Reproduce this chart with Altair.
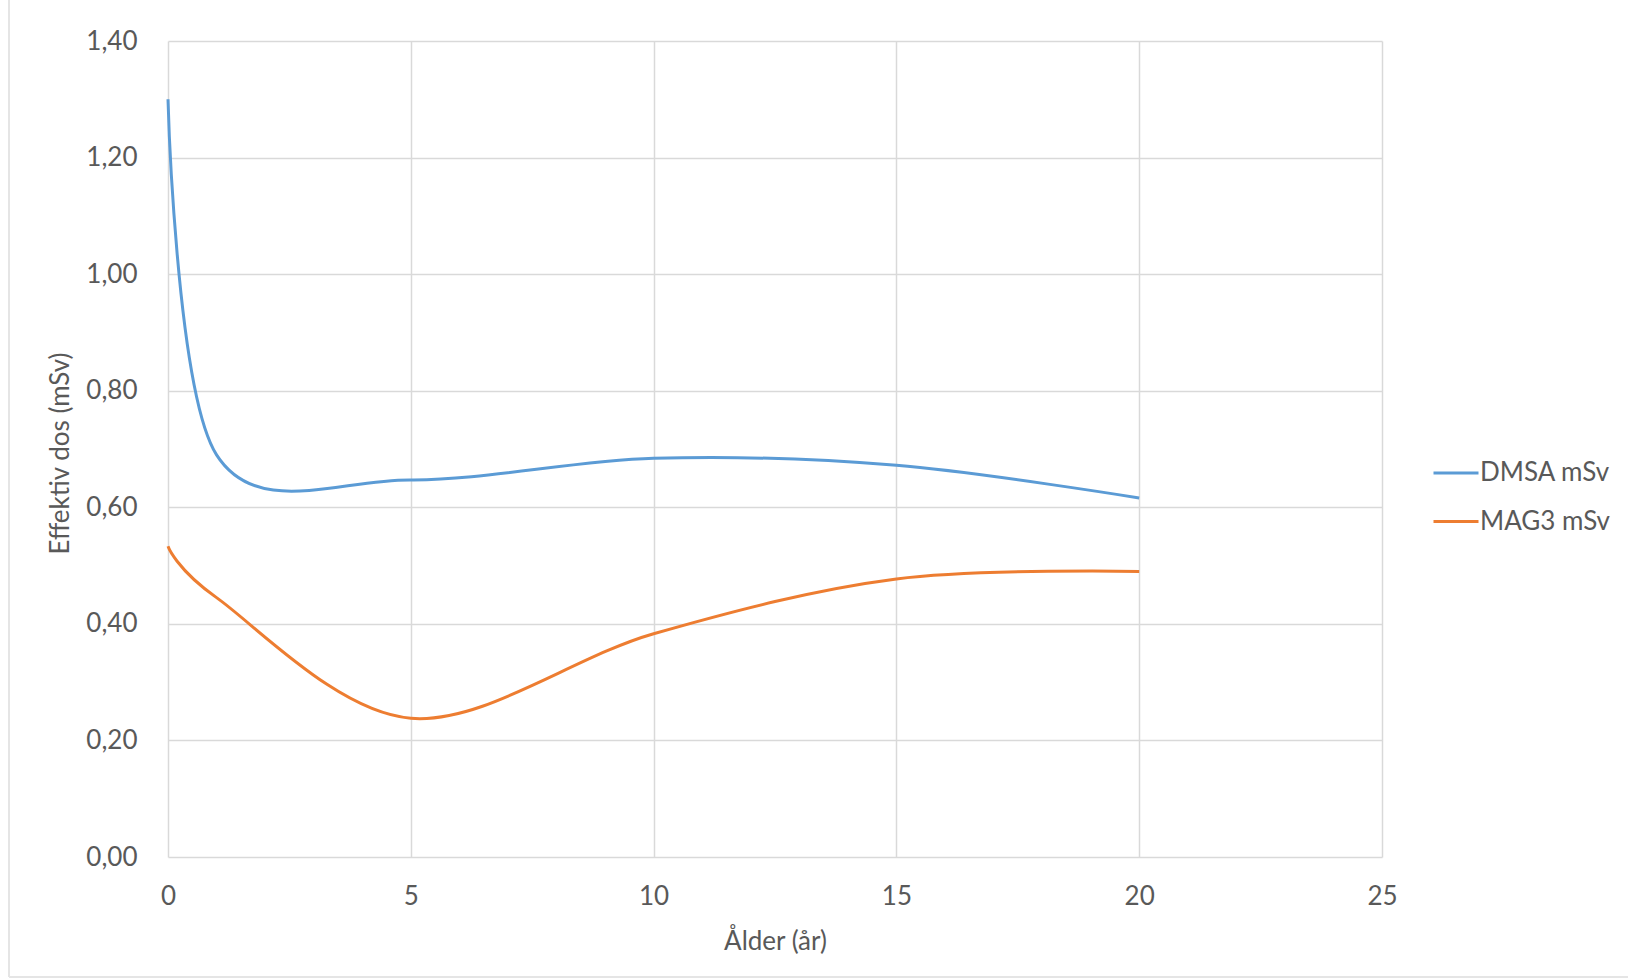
import altair as alt
import pandas as pd

# Effective dose per age group for the two renal agents
ages = [0, 1, 5, 10, 15, 20]
dmsa = [1.30, 0.69, 0.647, 0.684, 0.672, 0.616]
mag3 = [0.533, 0.445, 0.238, 0.383, 0.477, 0.490]
series_names = ["DMSA mSv", "MAG3 mSv"]
series_colors = ["#5B9BD5", "#ED7D31"]

x_ticks = [0, 5, 10, 15, 20, 25]
y_ticks = [0.0, 0.2, 0.4, 0.6, 0.8, 1.0, 1.2, 1.4]

df = pd.DataFrame(
    {
        "age": ages * 2,
        "dose": dmsa + mag3,
        "series": [series_names[0]] * len(ages) + [series_names[1]] * len(ages),
    }
)

FONT = "Lato"
TEXT = "#595959"
GRID = "#D9D9D9"

lines = (
    alt.Chart(df)
    .mark_line(interpolate="cardinal", strokeWidth=3)
    .encode(
        x=alt.X(
            "age:Q",
            scale=alt.Scale(domain=[0, 25], nice=False),
            axis=alt.Axis(
                values=x_ticks,
                title="Ålder (år)",
                titleFont=FONT,
                titleFontSize=26,
                titleFontWeight="normal",
                titleColor=TEXT,
                titleBaseline="middle",
                titleY=84,
                labelFont=FONT,
                labelFontSize=26,
                labelColor=TEXT,
                labelPadding=26,
                labelFlush=False,
                ticks=False,
                domain=False,
                grid=True,
                gridColor=GRID,
                gridWidth=1.5,
            ),
        ),
        y=alt.Y(
            "dose:Q",
            scale=alt.Scale(domain=[0, 1.4], nice=False),
            axis=alt.Axis(
                values=y_ticks,
                labelExpr="replace(format(datum.value, '.2f'), '.', ',')",
                title="Effektiv dos (mSv)",
                titleFont=FONT,
                titleFontSize=26,
                titleFontWeight="normal",
                titleColor=TEXT,
                titleAngle=270,
                titleAlign="center",
                titleBaseline="middle",
                titleX=-108,
                titleY=412,
                labelFont=FONT,
                labelFontSize=26,
                labelColor=TEXT,
                labelPadding=31,
                ticks=False,
                domain=False,
                grid=True,
                gridColor=GRID,
                gridWidth=1.5,
            ),
        ),
        color=alt.Color(
            "series:N",
            scale=alt.Scale(domain=series_names, range=series_colors),
            legend=alt.Legend(
                title=None,
                orient="none",
                legendX=1264,
                legendY=408,
                symbolType="stroke",
                symbolSize=2025,
                symbolStrokeWidth=3,
                labelFont=FONT,
                labelFontSize=26,
                labelColor=TEXT,
                labelOffset=0,
                rowPadding=11.5,
            ),
        ),
    )
)

# faint outer frame of the chart area (left and bottom edges)
frame_left = alt.Chart(df).mark_rule(color="#E4E4E4", strokeWidth=1.5).encode(
    x=alt.value(-159), y=alt.value(-41), y2=alt.value(936)
)
frame_bottom = alt.Chart(df).mark_rule(color="#E4E4E4", strokeWidth=1.5).encode(
    x=alt.value(-159), x2=alt.value(1460), y=alt.value(936)
)

chart = (
    alt.layer(frame_left, frame_bottom, lines)
    .properties(
        width=1214,
        height=816,
        autosize=alt.AutoSizeParams(type="none"),
        padding={"left": 168, "top": 41, "right": 248, "bottom": 122},
        background="white",
    )
    .configure_view(stroke=None)
)

chart.save("out.html", embed_options={"renderer": "svg", "actions": False})
